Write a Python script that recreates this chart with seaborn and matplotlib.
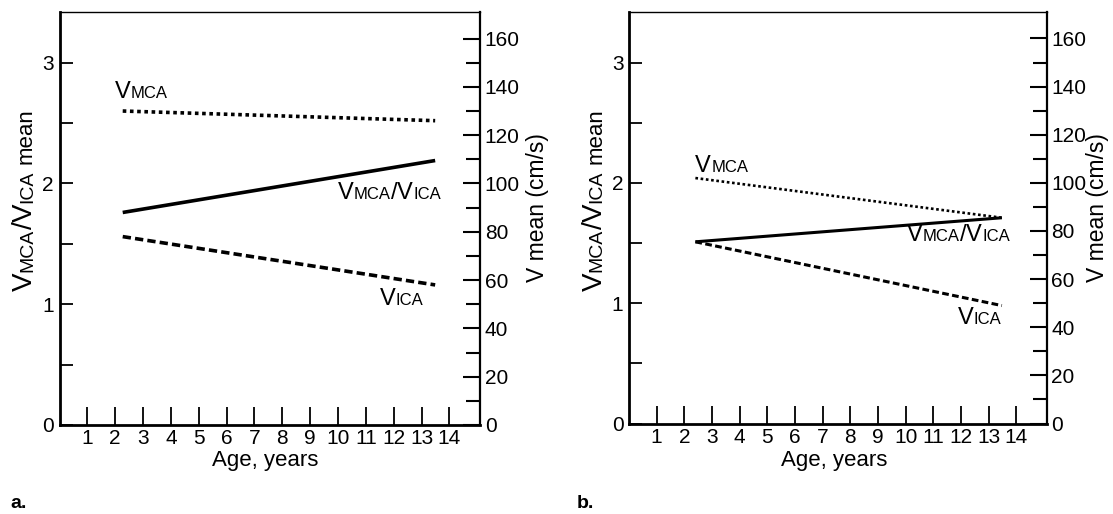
import matplotlib
matplotlib.use("Agg")
import matplotlib.pyplot as plt
import seaborn as sns
import pandas as pd

# ---------------- data ----------------
ages_a = [2.27, 13.49]
vmca_a = [130, 126]        # cm/s (right axis)
vica_a = [78, 58]          # cm/s (right axis)
ratio_a = [1.76, 2.19]     # left axis

ages_b = [2.4, 13.48]
vmca_b = [102, 85.5]
vica_b = [75.5, 49]
ratio_b = [1.51, 1.71]

x_ticks = list(range(1, 15))
left_ticks = [0, 1, 2, 3]
left_minor = [0.5, 1.5, 2.5]
right_ticks = list(range(0, 161, 20))
right_minor = list(range(10, 151, 20))

sns.set_theme(style="white")
plt.rcParams["font.family"] = ["Liberation Sans", "DejaVu Sans"]
plt.rcParams["axes.edgecolor"] = "black"
plt.rcParams["xtick.color"] = "black"
plt.rcParams["ytick.color"] = "black"

W, H = 1113, 514
fig = plt.figure(figsize=(W / 100, H / 100), dpi=100)
fig.patch.set_facecolor("white")
renderer = fig.canvas.get_renderer()

XMAX, YL = 15.1, 3.42
YR = YL * 50


def measure(s, size):
    t = fig.text(0, 0, s, fontsize=size)
    w = t.get_window_extent(renderer).width
    t.remove()
    return w


def space(size):
    return measure("n n", size) - measure("nn", size)


def mixed(x_px, y_px, pieces, rotation=0):
    """x_px, y_px: baseline start in pixels from the top-left corner."""
    off = 0.0
    for s, size in pieces:
        if s == " ":
            off += space(size)
            continue
        if rotation == 0:
            fig.text((x_px + off) / W, 1 - y_px / H, s, fontsize=size,
                     ha="left", va="baseline", color="black")
        else:
            fig.text(x_px / W, 1 - (y_px - off) / H, s, fontsize=size,
                     rotation=90, rotation_mode="anchor",
                     ha="left", va="baseline", color="black")
        off += measure(s, size)


def data_px(ax, x, y):
    dx, dy = ax.transData.transform((x, y))
    return dx, H - dy


def panel(l, r, t, b, ages, vmca, vica, ratio, lws, labels, letter, letter_x,
          rlabel_off):
    ax = fig.add_axes([l / W, 1 - b / H, (r - l) / W, (b - t) / H])
    ax2 = ax.twinx()
    ax.set_xlim(0, XMAX)
    ax.set_ylim(0, YL)
    ax2.set_ylim(0, YR)

    lw_solid, lw_dot, dot_pat, lw_dash, dash_pat = lws
    sns.lineplot(x=ages, y=ratio, ax=ax, color="black", linewidth=lw_solid,
                 solid_capstyle="butt")
    sns.lineplot(x=ages, y=vmca, ax=ax2, color="black", linewidth=lw_dot,
                 linestyle=(0, dot_pat))
    sns.lineplot(x=ages, y=vica, ax=ax2, color="black", linewidth=lw_dash,
                 linestyle=(0, dash_pat))

    ax.set_xticks(x_ticks)
    ax.set_xticklabels([str(v) for v in x_ticks])
    ax.set_yticks(left_ticks)
    ax.set_yticklabels([str(v) for v in left_ticks])
    ax.set_yticks(left_minor, minor=True)
    ax2.set_yticks(right_ticks)
    ax2.set_yticklabels([str(v) for v in right_ticks])
    ax2.set_yticks(right_minor, minor=True)
    ax.set_xlabel("")
    ax.set_ylabel("")
    ax2.set_ylabel("")

    ax.tick_params(axis="x", which="major", direction="in", length=13, width=1.3,
                   pad=3.0, labelsize=15, bottom=True, top=False)
    ax.tick_params(axis="y", which="both", direction="in", length=9.5, width=1.3,
                   pad=4.0, labelsize=15, left=True, right=False)
    ax2.tick_params(axis="y", which="major", direction="in", length=12, width=1.5,
                    pad=3.4, labelsize=15, right=True, left=False)
    ax2.tick_params(axis="y", which="minor", direction="in", length=10, width=1.5,
                    right=True, left=False)

    for side, lw in (("left", 2.0), ("bottom", 2.0), ("top", 1.0)):
        ax.spines[side].set_visible(True)
        ax.spines[side].set_linewidth(lw)
        ax.spines[side].set_color("black")
        ax2.spines[side].set_visible(False)
    ax.spines["right"].set_visible(False)
    ax2.spines["right"].set_visible(True)
    ax2.spines["right"].set_linewidth(1.6)
    ax2.spines["right"].set_color("black")
    ax.grid(False)
    ax2.grid(False)

    # x label
    xl, _ = data_px(ax, 7.4, 0)
    fig.text(xl / W, 1 - 466 / H, "Age, years", fontsize=16, ha="center",
             va="baseline", color="black")

    # left y label (mixed sizes)
    mixed(l - 27.5, 291, [("V", 20), ("MCA", 14), ("/", 20), ("V", 20),
                          ("ICA", 14), (" ", 16), ("mean", 16)], rotation=90)
    # right y label
    fig.text((r + rlabel_off) / W, 1 - 208 / H, "V mean (cm/s)", fontsize=16.5,
             rotation=90, rotation_mode="anchor", ha="center", va="baseline",
             color="black")

    # in-plot labels
    for (x, y, kind) in labels:
        px, py = data_px(ax, x, y)
        if kind == "mca":
            pieces = [("V", 17), ("MCA", 12)]
        elif kind == "ica":
            pieces = [("V", 17), ("ICA", 12)]
        else:
            pieces = [("V", 17), ("MCA", 12), ("/", 17), ("V", 17), ("ICA", 12)]
        mixed(px, py, pieces)

    fig.text(letter_x / W, 1 - 508 / H, letter, fontsize=14, fontweight="bold",
             family=["Liberation Sans Narrow", "Liberation Sans", "DejaVu Sans"],
             ha="left", va="baseline", color="black")
    return ax, ax2


panel(59.5, 480, 12, 425, ages_a, vmca_a, vica_a, ratio_a,
      (2.6, 2.6, (1.0, 1.0), 2.6, (2.3, 1.15)),
      [(2.0, 2.71, "mca"), (10.0, 1.87, "ratio"), (11.5, 0.99, "ica")],
      "a.", 10, 64)

panel(629, 1046.7, 12, 423.5, ages_b, vmca_b, vica_b, ratio_b,
      (2.2, 1.9, (1.0, 1.0), 2.2, (2.2, 1.1)),
      [(2.4, 2.09, "mca"), (10.05, 1.52, "ratio"), (11.9, 0.83, "ica")],
      "b.", 577, 57)

fig.savefig("out.png", dpi=100, facecolor="white")
